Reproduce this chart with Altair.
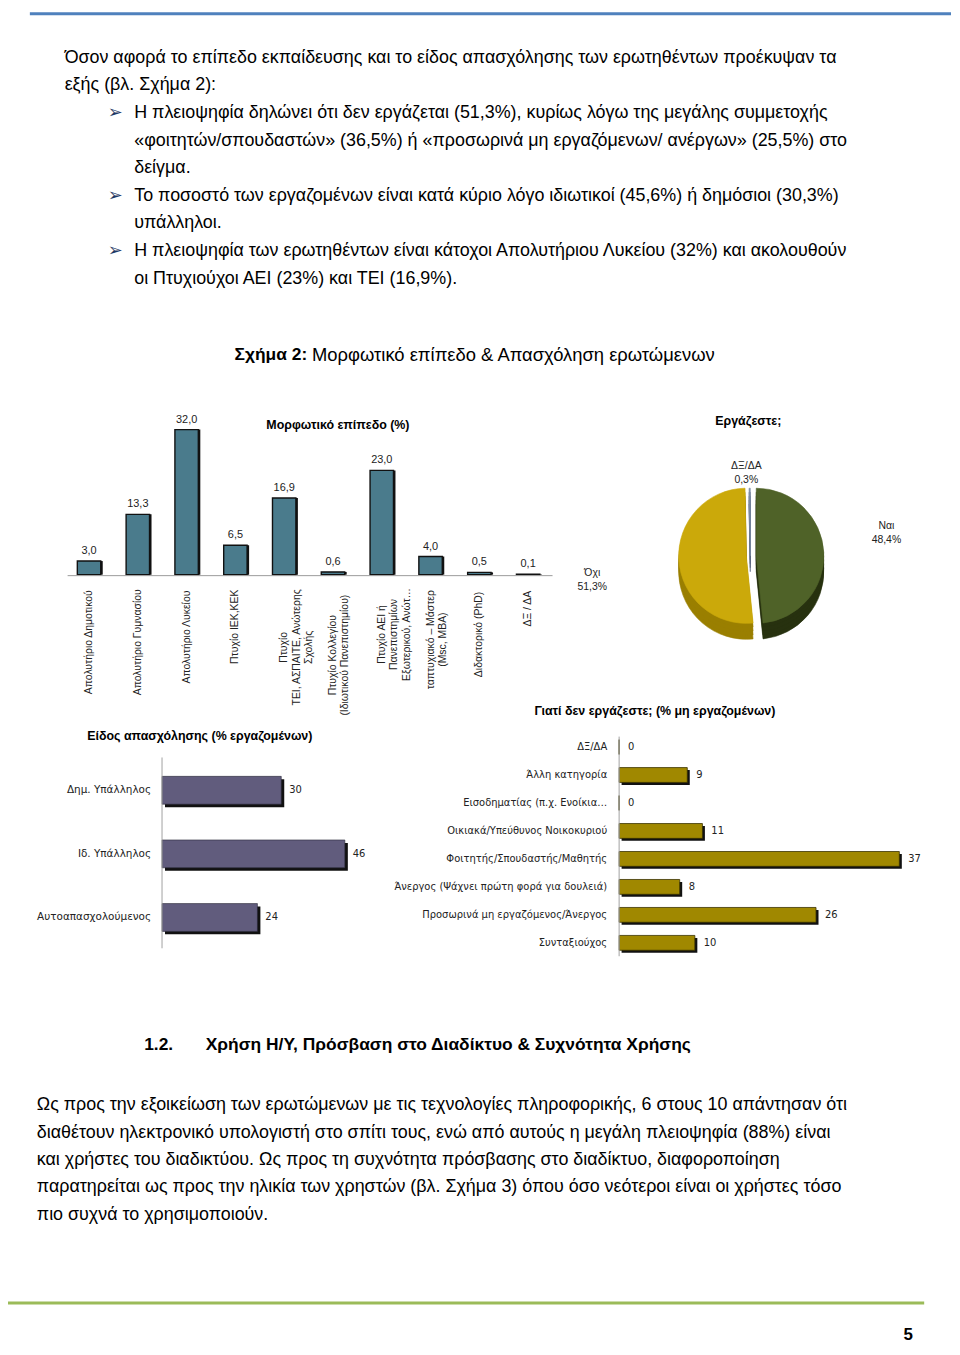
import math
import altair as alt
import pandas as pd

# ------------------------------------------------------------------ data
edu_cats = ["Απολυτήριο Δημοτικού", "Απολυτήριο Γυμνασίου", "Απολυτήριο Λυκείου",
            "Πτυχίο ΙΕΚ,ΚΕΚ", "Πτυχίο\nΤΕΙ, ΑΣΠΑΙΤΕ, Ανώτερης\nΣχολής",
            "Πτυχίο Κολλεγίου\n(Ιδιωτικού Πανεπιστημίου)",
            "Πτυχίο ΑΕΙ ή\nΠανεπιστημίων\nΕξωτερικού, Ανώτ…",
            "ταπτυχιακό – Μάστερ\n(Msc, MBA)", "Διδακτορικό (PhD)", "ΔΞ / ΔΑ"]
edu_vals = [3.0, 13.3, 32.0, 6.5, 16.9, 0.6, 23.0, 4.0, 0.5, 0.1]

work_cats = ["Ναι", "Όχι", "ΔΞ/ΔΑ"]
work_vals = [48.4, 51.3, 0.3]

job_cats = ["Δημ. Υπάλληλος", "Ιδ. Υπάλληλος", "Αυτοαπασχολούμενος"]
job_vals = [30, 46, 24]

why_cats = ["ΔΞ/ΔΑ", "Άλλη κατηγορία", "Εισοδηματίας  (π.χ. Ενοίκια…",
            "Οικιακά/Υπεύθυνος Νοικοκυριού", "Φοιτητής/Σπουδαστής/Μαθητής",
            "Άνεργος  (Ψάχνει πρώτη φορά για δουλειά)",
            "Προσωρινά μη εργαζόμενος/Άνεργος", "Συνταξιούχος"]
why_vals = [0, 9, 0, 11, 37, 8, 26, 10]

intro_lines = ["Όσον αφορά το επίπεδο εκπαίδευσης και το είδος απασχόλησης των ερωτηθέντων προέκυψαν τα",
               "εξής (βλ. Σχήμα 2):"]
bullet_lines = [
    ["Η πλειοψηφία δηλώνει ότι δεν εργάζεται (51,3%), κυρίως λόγω της μεγάλης συμμετοχής",
     "«φοιτητών/σπουδαστών» (36,5%) ή «προσωρινά μη εργαζόμενων/ ανέργων» (25,5%) στο",
     "δείγμα."],
    ["Το ποσοστό των εργαζομένων είναι κατά κύριο λόγο ιδιωτικοί (45,6%) ή δημόσιοι (30,3%)",
     "υπάλληλοι."],
    ["Η πλειοψηφία των ερωτηθέντων είναι κάτοχοι Απολυτήριου Λυκείου (32%) και ακολουθούν",
     "οι Πτυχιούχοι ΑΕΙ (23%) και ΤΕΙ (16,9%)."],
]
fig_title_bold = "Σχήμα 2:"
fig_title_rest = "Μορφωτικό επίπεδο & Απασχόληση ερωτώμενων"
edu_title = "Μορφωτικό επίπεδο (%)"
work_title = "Εργάζεστε;"
job_title = "Είδος απασχόλησης (% εργαζομένων)"
why_title = "Γιατί δεν εργάζεστε;  (% μη εργαζομένων)"
section_num = "1.2."
section_title = "Χρήση Η/Υ, Πρόσβαση στο Διαδίκτυο & Συχνότητα Χρήσης"
para_lines = [
    "Ως προς την εξοικείωση των ερωτώμενων με τις τεχνολογίες πληροφορικής, 6 στους 10 απάντησαν ότι",
    "διαθέτουν ηλεκτρονικό υπολογιστή στο σπίτι τους, ενώ από αυτούς η μεγάλη πλειοψηφία (88%) είναι",
    "και χρήστες του διαδικτύου. Ως προς τη συχνότητα πρόσβασης στο διαδίκτυο, διαφοροποίηση",
    "παρατηρείται ως προς την ηλικία των χρηστών (βλ. Σχήμα 3) όπου όσο νεότεροι είναι οι χρήστες τόσο",
    "πιο συχνά το χρησιμοποιούν.",
]
page_number = "5"

# ------------------------------------------------------------------ helpers
O = 8
def px(v):
    return v - O

BODY = "Liberation Sans"
TAH = "DejaVu Sans"
BODY_SIZE = 18
ONE = pd.DataFrame({"k": [0]})


def txt(s, x, y, size=BODY_SIZE, bold=False, font=BODY, align="left", color="black"):
    return alt.Chart(pd.DataFrame({"t": [s]})).mark_text(
        align=align, baseline="middle", font=font, fontSize=size,
        fontWeight="bold" if bold else "normal", color=color, lineBreak="\n",
    ).encode(text="t:N", x=alt.value(px(x)), y=alt.value(px(y)))


def hline(x1, x2, y, color, w):
    return alt.Chart(ONE).mark_rule(color=color, strokeWidth=w).encode(
        x=alt.value(max(px(x1), 0)), x2=alt.value(px(x2)), y=alt.value(px(y)))


layers = []

# decorative page rules
layers.append(hline(30, 957, 9.5, "#4F81BD", 3))
layers.append(hline(3, 930, 1307, "#9BBB59", 3))

# text blocks
LH = 27.75
y = 54
for s in intro_lines:
    layers.append(txt(s, 65, y))
    y += LH
for block in bullet_lines:
    layers.append(txt("➢", 116, y, size=18, font="DejaVu Sans", align="center", color="#1F3864"))
    for s in block:
        layers.append(txt(s, 135, y))
        y += LH

layers.append(txt(fig_title_bold, 236, 353, size=17.5, bold=True))
layers.append(txt(fig_title_rest, 314, 353, size=18.5))

layers.append(txt(section_num, 145, 1047, size=17.5, bold=True))
layers.append(txt(section_title, 207, 1047, size=17.5, bold=True))
for i, s in enumerate(para_lines):
    layers.append(txt(s, 37, 1108 + i * 27.5))
layers.append(txt(page_number, 914, 1339, size=17, bold=True, align="center"))

# ------------------------------------------------------------------ education bars
edu_df = pd.DataFrame({"cat": edu_cats, "v": edu_vals})
edu_df["maxlen"] = [max(len(p) for p in c.split("\n")) for c in edu_cats]

edu_x = alt.X("cat:N", sort=edu_cats, axis=None,
              scale=alt.Scale(range=[px(65), px(556)], paddingInner=0.52, paddingOuter=0.26))
edu_y = alt.Y("v:Q", axis=None,
              scale=alt.Scale(domain=[0, 32], range=[px(574), px(428)], nice=False, zero=True))

edu_base = alt.Chart(edu_df)
edu_shadow = edu_base.mark_bar(color="#111111", xOffset=2).encode(x=edu_x, y=edu_y)
edu_bars = edu_base.mark_bar(color="#4A7B8C", stroke="#111111", strokeWidth=1.4).encode(x=edu_x, y=edu_y)
edu_vals_lab = edu_base.transform_calculate(
    lab="replace(format(datum.v, '.1f'), '.', ',')"
).mark_text(baseline="bottom", dy=-5, font=BODY, fontSize=11, color="#222222").encode(
    x=edu_x, y=edu_y, text="lab:N")
edu_axis = alt.Chart(ONE).mark_rule(color="#9A9A9A", strokeWidth=1).encode(
    x=alt.value(px(68)), x2=alt.value(px(556)), y=alt.value(px(575)))
layers.append(alt.layer(edu_shadow, edu_bars, edu_vals_lab))
layers.append(edu_axis)

edu_lab = alt.Chart(edu_df).transform_calculate(
    ly=f"{px(590)} + datum.maxlen * 2.6"
).mark_text(angle=270, align="center", baseline="middle", lineBreak="\n",
            font=BODY, fontSize=10.5, lineHeight=12.5, color="#222222").encode(
    x=edu_x, y=alt.Y("ly:Q", scale=None), text="cat:N")
layers.append(edu_lab)
layers.append(txt(edu_title, 340, 423, size=12.5, bold=True, align="center"))

# ------------------------------------------------------------------ pie
pie_df = pd.DataFrame({"cat": work_cats, "v": work_vals, "ord": [0, 1, 2]})
pie_base = alt.Chart(pie_df).transform_window(
    cum="sum(v)", sort=[alt.SortField("ord")], frame=[None, 0]
).transform_calculate(t0="datum.cum - datum.v")

th = alt.Theta("t0:Q", stack=False, scale=alt.Scale(domain=[0, 100], range=[0, 2 * math.pi]))
th2 = alt.Theta2("cum:Q")
CX, CY, R = 756, 555, 68
top_col = {"Ναι": "#4F6228", "Όχι": "#CBA90A", "ΔΞ/ΔΑ": "#7F8FA8"}
side_col = {"Ναι": "#27310F", "Όχι": "#9A7F00", "ΔΞ/ΔΑ": "#5A6680"}
shift = {"Ναι": 5, "Όχι": -5, "ΔΞ/ΔΑ": -1}

pie_layers = []
for d in [16, 12, 8, 4]:
    for c in work_cats:
        pie_layers.append(pie_base.transform_filter(alt.datum.cat == c).mark_arc(
            radius=R, fill=side_col[c], stroke=side_col[c], strokeWidth=0.6).encode(
            theta=th, theta2=th2, x=alt.value(px(CX + shift[c])), y=alt.value(px(CY + d))))
for c in work_cats:
    pie_layers.append(pie_base.transform_filter(alt.datum.cat == c).mark_arc(
        radius=R, fill=top_col[c], stroke=top_col[c], strokeWidth=0.6).encode(
        theta=th, theta2=th2, x=alt.value(px(CX + shift[c])), y=alt.value(px(CY))))
layers.append(alt.layer(*pie_layers))

pie_lab_pos = {"Ναι": (892, 525), "Όχι": (596, 572), "ΔΞ/ΔΑ": (751, 465)}
for c in work_cats:
    lx, ly = pie_lab_pos[c]
    layers.append(pie_base.transform_filter(alt.datum.cat == c).transform_calculate(
        lab="datum.cat + '\\n' + replace(format(datum.v, '.1f'), '.', ',') + '%'"
    ).mark_text(align="center", baseline="middle", lineBreak="\n", lineHeight=14,
                font=BODY, fontSize=10.5, color="#222222").encode(
        text="lab:N", x=alt.value(px(lx)), y=alt.value(px(ly))))
layers.append(txt(work_title, 753, 419, size=12.5, bold=True, align="center"))

# ------------------------------------------------------------------ job type bars
job_df = pd.DataFrame({"cat": job_cats, "v": job_vals})
jy = alt.Y("cat:N", sort=job_cats, axis=None,
           scale=alt.Scale(range=[px(759), px(951)], paddingInner=0.5625, paddingOuter=0.28125))
jx = alt.X("v:Q", axis=None, scale=alt.Scale(domain=[0, 46], range=[px(163), px(347)], nice=False))
jb = alt.Chart(job_df)
layers.append(alt.layer(
    jb.mark_bar(color="#111111", xOffset=3, yOffset=3).encode(x=jx, y=jy),
    jb.mark_bar(color="#615C7D", stroke="#2A2838", strokeWidth=0.6).encode(x=jx, y=jy),
    jb.mark_text(align="left", baseline="middle", dx=8, font=TAH, fontSize=10, color="#222222").encode(
        x=jx, y=jy, text=alt.Text("v:Q", format="d")),
    jb.mark_text(align="right", baseline="middle", font=TAH, fontSize=10.5, color="#222222").encode(
        x=alt.value(px(152)), y=jy, text="cat:N"),
))
layers.append(alt.Chart(ONE).mark_rule(color="#A0A0A0").encode(
    x=alt.value(px(163)), y=alt.value(px(758)), y2=alt.value(px(950))))
layers.append(txt(job_title, 201, 736, size=12.5, bold=True, align="center"))

# ------------------------------------------------------------------ why not working bars
why_df = pd.DataFrame({"cat": why_cats, "v": why_vals})
wy = alt.Y("cat:N", sort=why_cats, axis=None,
           scale=alt.Scale(range=[px(733.4), px(958.6)], paddingInner=0.47, paddingOuter=0.235))
wx = alt.X("v:Q", axis=None, scale=alt.Scale(domain=[0, 37], range=[px(623), px(905)], nice=False))
wb = alt.Chart(why_df)
layers.append(alt.layer(
    wb.mark_bar(color="#111111", xOffset=2.5, yOffset=2.5).encode(x=wx, y=wy),
    wb.mark_bar(color="#A08800", stroke="#3A3200", strokeWidth=0.8).encode(x=wx, y=wy),
    wb.mark_text(align="left", baseline="middle", dx=9, font=TAH, fontSize=10, color="#222222").encode(
        x=wx, y=wy, text=alt.Text("v:Q", format="d")),
    wb.mark_text(align="right", baseline="middle", font=TAH, fontSize=10, color="#222222").encode(
        x=alt.value(px(611)), y=wy, text="cat:N"),
))
layers.append(alt.Chart(ONE).mark_rule(color="#A0A0A0").encode(
    x=alt.value(px(623)), y=alt.value(px(737)), y2=alt.value(px(958))))
layers.append(txt(why_title, 659, 711, size=12.5, bold=True, align="center"))

# ------------------------------------------------------------------ assemble
chart = alt.layer(*layers).resolve_scale(
    x="independent", y="independent", theta="independent"
).properties(
    width=950, height=1339, autosize=alt.AutoSizeParams(type="none"), padding=0,
    background="white",
).configure_view(stroke=None)

chart.save("out.html", embed_options={"renderer": "svg", "actions": False})
